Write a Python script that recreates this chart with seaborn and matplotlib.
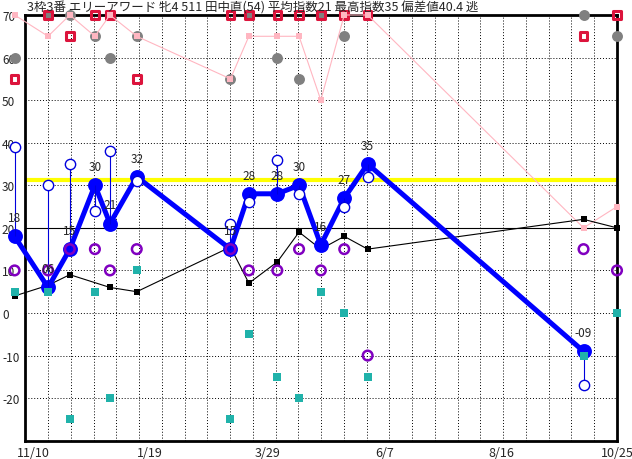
import numpy as np
import pandas as pd
import matplotlib
matplotlib.use("Agg")
import matplotlib.pyplot as plt
import seaborn as sns

# Race days, counted from 11/10
race_day = [-11, 9, 22, 37, 46, 62, 118, 129, 146, 159, 172, 186, 200, 329, 349]

# Main index (blue, thick line) - no value for the last race
index_val = [18, 6, 15, 30, 21, 32, 15, 28, 28, 30, 16, 27, 35, -9, np.nan]
# Hollow blue circles (sub index)
sub_val = [39, 30, 35, 24, 38, 31, 21, 26, 36, 28, np.nan, 25, 32, -17, np.nan]
# Purple rings
purple_val = [10, 10, 15, 15, 10, 15, 15, 10, 10, 15, 10, 15, -10, 15, 10]
# Teal squares
teal_val = [5, 5, -25, 5, -20, 10, -25, -5, -15, -20, 5, 0, -15, -10, 0]
# Black line
black_val = [4, 6.5, 9, np.nan, 6, 5, 15.5, 7, 12, 19, 15, 18, 15, 22, 20]
# Upper band (values clipped to 70)
pink_val = [70, 65, 70, 65, 70, 65, 55, 65, 65, 65, 50, 70, 70, 20, 25]
crimson_val = [55, 70, 65, 70, 70, 55, 70, 70, 70, 70, 70, 70, 70, 65, 70]
gray_val = [60, 70, 70, 65, 60, 65, 55, 70, 60, 55, 70, 65, np.nan, 70, 65]

standard_line = 31.3

x_tick_day = [0, 70, 140, 210, 280, 349]
x_tick_label = ["11/10", "1/19", "3/29", "6/7", "8/16", "10/25"]
y_ticks = list(range(-30, 71, 10))
y_tick_label = ["" if v == -30 else str(v) for v in y_ticks]

title = "3枠3番 エリーアワード 牝4 511 田中直(54) 平均指数21 最高指数35 偏差値40.4 逃"

df = pd.DataFrame({
    "day": race_day, "index": index_val, "sub": sub_val, "purple": purple_val,
    "teal": teal_val, "black": black_val, "pink": pink_val,
    "crimson": crimson_val, "gray": gray_val,
})


def fmt_index(v):
    v = int(v)
    return f"{v:02d}" if v >= 0 else f"-{-v:02d}"


sns.set_style("white")
plt.rcParams["font.family"] = ["Noto Sans CJK JP", "DejaVu Sans"]

fig = plt.figure(figsize=(6.32, 4.60), dpi=100)
ax = fig.add_axes([25.3 / 632, 18.3 / 460, 591.7 / 632, 425.7 / 460])

x_min, x_max = -4.6, 349
ax.set_xlim(x_min, x_max)
ax.set_ylim(-30, 70)

# grid
ax.set_xticks(x_tick_day)
ax.set_xticklabels(x_tick_label, fontsize=9)
ax.set_xticks(np.linspace(x_min, x_max, 27)[1:-1], minor=True)
ax.set_yticks(y_ticks)
ax.set_yticklabels(y_tick_label, fontsize=8.5)
for lab in ax.get_yticklabels():
    lab.set_horizontalalignment("left")
ax.tick_params(axis="y", length=0, pad=16.8)
ax.tick_params(axis="x", which="both", length=0, pad=4)
ax.grid(which="minor", axis="x", color="black", lw=0.7, ls=(0, (1, 2)))
ax.grid(which="major", axis="y", color="black", lw=0.7, ls=(0, (1, 2)))
ax.grid(which="major", axis="x", visible=False)
ax.set_axisbelow(True)

for side in ["left", "right", "top", "bottom"]:
    ax.spines[side].set_color("black")
    ax.spines[side].set_linewidth(2)
    ax.spines[side].set_zorder(2.6)

ax.axhline(20, color="black", lw=0.8, zorder=1)
ax.axhline(standard_line, color="#FFFF00", lw=3, zorder=1.2)

# upper band
sns.scatterplot(data=df, x="day", y="gray", ax=ax, color="#808080", s=62,
                linewidth=0, clip_on=False, zorder=3)
sns.scatterplot(data=df, x="day", y="crimson", ax=ax, marker="s", s=30,
                facecolor="none", edgecolor="#DC143C", linewidth=2.2,
                clip_on=False, zorder=3.2)
sns.lineplot(data=df, x="day", y="pink", ax=ax, color="#FFB6C1", lw=0.8,
             sort=False, estimator=None, clip_on=False, zorder=3.3)
sns.scatterplot(data=df, x="day", y="pink", ax=ax, marker="s", s=18,
                color="#FFB6C1", linewidth=0, clip_on=False, zorder=3.4)

# black line
bl = df.dropna(subset=["black"])
sns.lineplot(data=bl, x="day", y="black", ax=ax, color="black", lw=0.8,
             sort=False, estimator=None, clip_on=False, zorder=3.5)
sns.scatterplot(data=bl, x="day", y="black", ax=ax, marker="s", s=13,
                color="black", linewidth=0, clip_on=False, zorder=3.6)

# main index
ix = df.dropna(subset=["index"])
sns.lineplot(data=ix, x="day", y="index", ax=ax, color="#0000FF", lw=3.6,
             sort=False, estimator=None, clip_on=False, zorder=4)
sns.scatterplot(data=ix, x="day", y="index", ax=ax, color="#0000FF", s=115,
                linewidth=0, clip_on=False, zorder=4.1)

sb = df.dropna(subset=["sub", "index"])
ax.vlines(sb["day"], sb["sub"], sb["index"], color="#0000DD", lw=0.8,
          zorder=4.2, clip_on=False)
sns.scatterplot(data=sb, x="day", y="sub", ax=ax, marker="o", s=55,
                facecolor="white", edgecolor="#0000DD", linewidth=1,
                clip_on=False, zorder=4.3)

sns.scatterplot(data=df, x="day", y="purple", ax=ax, marker="o", s=48,
                facecolor="none", edgecolor="#8000C0", linewidth=1.8,
                clip_on=False, zorder=4.4)
sns.scatterplot(data=df, x="day", y="teal", ax=ax, marker="s", s=36,
                color="#20B2AA", linewidth=0, clip_on=False, zorder=4.5)

for d, v in zip(ix["day"], ix["index"]):
    ax.annotate(fmt_index(v), (d, v), xytext=(0, 13.5),
                textcoords="offset points", ha="center", va="center",
                fontsize=8.5, zorder=5, annotation_clip=False)

ax.set_xlabel("")
ax.set_ylabel("")
fig.text(27 / 632, 1 - 7.5 / 460, title, ha="left", va="center", fontsize=9)

fig.savefig("out.png", dpi=100)
plt.close(fig)
